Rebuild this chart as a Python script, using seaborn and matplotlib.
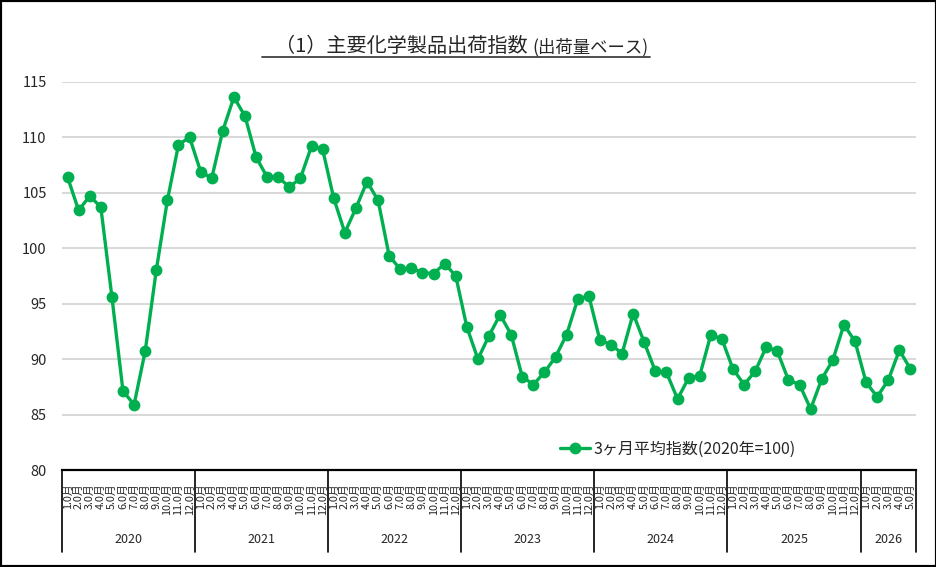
import matplotlib
matplotlib.use("Agg")
import matplotlib.pyplot as plt
from matplotlib.lines import Line2D
from matplotlib.patches import Rectangle
import pandas as pd
import seaborn as sns

TITLE_MAIN = "（1）主要化学製品出荷指数"
TITLE_SUB = "(出荷量ベース)"
SERIES_LABEL = "3ヶ月平均指数(2020年=100)"

years = [2020, 2021, 2022, 2023, 2024, 2025, 2026]
values_2020 = [106.4, 103.4, 104.7, 103.7, 95.6, 87.1, 85.9, 90.7, 98.0, 104.3, 109.3, 110.0]
values_2021 = [106.9, 106.3, 110.6, 113.6, 111.9, 108.2, 106.4, 106.4, 105.5, 106.3, 109.2, 108.9]
values_2022 = [104.5, 101.4, 103.6, 106.0, 104.3, 99.3, 98.1, 98.2, 97.8, 97.7, 98.6, 97.5]
values_2023 = [92.9, 90.0, 92.1, 94.0, 92.2, 88.4, 87.7, 88.8, 90.2, 92.2, 95.4, 95.7]
values_2024 = [91.7, 91.3, 90.5, 94.1, 91.5, 88.9, 88.8, 86.4, 88.3, 88.5, 92.2, 91.8]
values_2025 = [89.1, 87.7, 88.9, 91.1, 90.7, 88.1, 87.7, 85.5, 88.2, 89.9, 93.1, 91.6]
values_2026 = [87.9, 86.6, 88.1, 90.8, 89.1]
yearly_values = [values_2020, values_2021, values_2022, values_2023,
                 values_2024, values_2025, values_2026]

GREEN = "#00B050"
GRID = "#D9D9D9"
JP = ["Noto Sans CJK JP", "DejaVu Sans"]

rows = []
for year, vals in zip(years, yearly_values):
    for m, v in enumerate(vals, start=1):
        rows.append({"year": year, "month": m, "value": v})
df = pd.DataFrame(rows)
df["pos"] = range(len(df))

sns.set_style("white")
plt.rcParams["font.family"] = JP

W, H = 937, 567
fig = plt.figure(figsize=(W / 100, H / 100), dpi=100)
ax = fig.add_axes([62 / W, 97 / H, 854 / W, 388.3 / H])

sns.lineplot(data=df, x="pos", y="value", ax=ax, color=GREEN, lw=2.4,
             marker="o", markersize=8.5, markeredgewidth=0,
             label=SERIES_LABEL)

ax.set_xlim(-0.5, len(df) - 0.5)
ax.set_ylim(80, 115)
ax.set_yticks(range(80, 116, 5))
ax.yaxis.grid(True, color=GRID, lw=1.5)
ax.set_axisbelow(True)
ax.set_xticks([])
ax.set_xlabel("")
ax.set_ylabel("")
ax.tick_params(axis="y", length=0, pad=11, labelsize=10.5)
for side in ["left", "right", "top"]:
    ax.spines[side].set_visible(False)
ax.spines["bottom"].set_color("black")
ax.spines["bottom"].set_linewidth(1.6)

# category axis: months, years, separators
trans = ax.get_xaxis_transform()
for _, r in df.iterrows():
    ax.text(r["pos"], -0.034, f"{r['month']}月", transform=trans, rotation=90,
            ha="center", va="top", fontsize=7.8, clip_on=False)

start = 0
bounds = [-0.5]
for year, vals in zip(years, yearly_values):
    end = start + len(vals)
    ax.text((start + end - 1) / 2, -0.18, str(year), transform=trans,
            ha="center", va="center", fontsize=9, clip_on=False)
    bounds.append(end - 0.5)
    start = end
for b in bounds:
    ax.plot([b, b], [0, -0.2104], transform=trans, color="black", lw=1.2,
            clip_on=False)

leg = ax.legend(loc="center left", bbox_to_anchor=(560 / W, (H - 449) / H),
                bbox_transform=fig.transFigure, frameon=False, borderpad=0,
                borderaxespad=0, handlelength=1.9, handletextpad=0.2,
                fontsize=11.5)

# title with underline
fig.text(528 / W, (H - 52) / H, TITLE_MAIN, ha="right", va="baseline",
         fontsize=14.5)
fig.text(532 / W, (H - 52) / H, TITLE_SUB, ha="left", va="baseline",
         fontsize=12.5)
fig.add_artist(Line2D([262 / W, 650 / W], [(H - 57) / H, (H - 57) / H],
                      transform=fig.transFigure, color="#404040", lw=1.3))

fig.patches.append(Rectangle((0, 0), 1, 1, transform=fig.transFigure,
                             fill=False, edgecolor="black", lw=3))

fig.savefig("out.png", dpi=100)
